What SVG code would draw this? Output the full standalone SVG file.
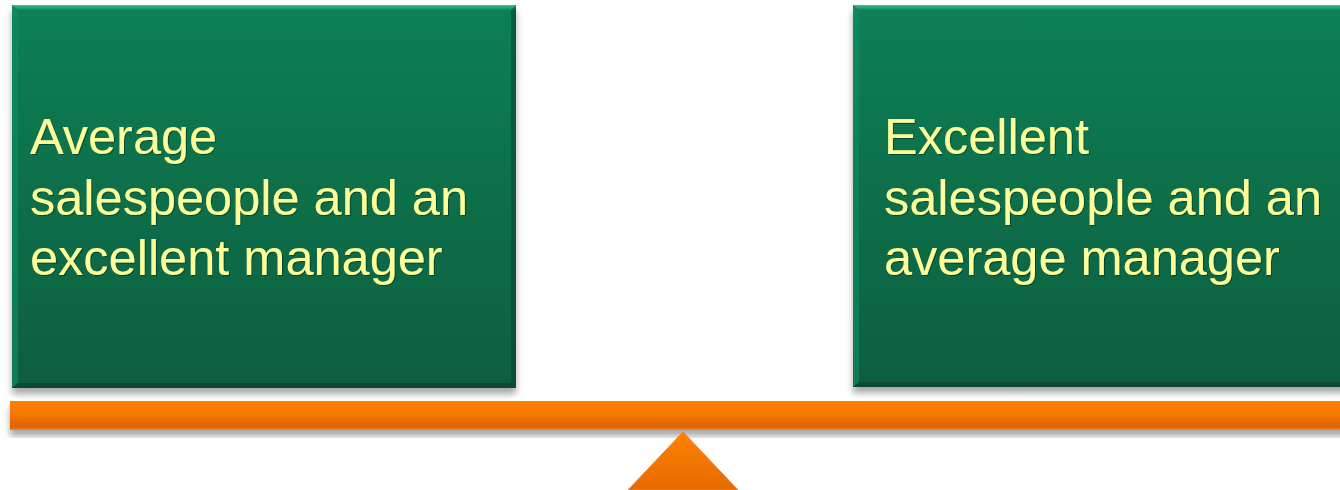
<svg xmlns="http://www.w3.org/2000/svg" width="1340" height="490" viewBox="0 0 1340 490">
  <style>
    .label { font-family: "Liberation Sans", Arial, sans-serif; font-size: 50.5px; fill: #FFFF99; }
  </style>
  <defs>
    <linearGradient id="boxFill" x1="0" y1="0" x2="0" y2="1">
      <stop offset="0" stop-color="#078056"/>
      <stop offset="1" stop-color="#095E3F"/>
    </linearGradient>
    <linearGradient id="bevelTop" x1="0" y1="0" x2="0" y2="1">
      <stop offset="0" stop-color="#3FBF8C"/>
      <stop offset="1" stop-color="#0A8A5C"/>
    </linearGradient>
    <linearGradient id="beamFill" x1="0" y1="0" x2="0" y2="1">
      <stop offset="0" stop-color="#FF8000"/>
      <stop offset="0.45" stop-color="#F57800"/>
      <stop offset="0.9" stop-color="#DD6200"/>
      <stop offset="1" stop-color="#F28A2A"/>
    </linearGradient>
    <linearGradient id="pivotFill" x1="0" y1="0" x2="0" y2="1">
      <stop offset="0" stop-color="#FF8200"/>
      <stop offset="1" stop-color="#E56A00"/>
    </linearGradient>
    <filter id="shadow" x="-5%" y="-5%" width="110%" height="130%">
      <feGaussianBlur in="SourceAlpha" stdDeviation="3.5"/>
      <feOffset dx="0" dy="6" result="b"/>
      <feComponentTransfer><feFuncA type="linear" slope="0.35"/></feComponentTransfer>
      <feMerge><feMergeNode/><feMergeNode in="SourceGraphic"/></feMerge>
    </filter>
    <filter id="textShadow" x="-5%" y="-20%" width="110%" height="140%">
      <feGaussianBlur in="SourceAlpha" stdDeviation="0.7"/>
      <feOffset dx="0.8" dy="0.8"/>
      <feComponentTransfer><feFuncA type="linear" slope="0.35"/></feComponentTransfer>
      <feMerge><feMergeNode/><feMergeNode in="SourceGraphic"/></feMerge>
    </filter>
  </defs>

  <!-- left pan -->
  <g id="box-left" filter="url(#shadow)">
    <rect x="12" y="5" width="504" height="383" fill="url(#boxFill)"/>
    <polygon points="12,5 516,5 516,10 18,10" fill="url(#bevelTop)"/>
    <polygon points="12,5 18,10 18,383 12,388" fill="#0A8F60" opacity="0.6"/>
    <polygon points="516,5 516,388 511,383 511,10" fill="#063F2A" opacity="0.5"/>
    <polygon points="12,388 516,388 511,383 18,383" fill="#053B27" opacity="0.55"/>
    <text class="label" filter="url(#textShadow)">
      <tspan x="30" y="154">Average</tspan>
      <tspan x="30" y="215">salespeople and an</tspan>
      <tspan x="30" y="275">excellent manager</tspan>
    </text>
  </g>

  <!-- right pan -->
  <g id="box-right" filter="url(#shadow)">
    <rect x="853" y="5" width="500" height="382" fill="url(#boxFill)"/>
    <polygon points="853,5 1353,5 1353,10 859,10" fill="url(#bevelTop)"/>
    <polygon points="853,5 859,10 859,382 853,387" fill="#0A8F60" opacity="0.6"/>
    <polygon points="853,387 1353,387 1348,382 859,382" fill="#053B27" opacity="0.55"/>
    <text class="label" filter="url(#textShadow)">
      <tspan x="884" y="154">Excellent</tspan>
      <tspan x="884" y="215">salespeople and an</tspan>
      <tspan x="884" y="275">average manager</tspan>
    </text>
  </g>

  <!-- balance beam -->
  <g id="beam" filter="url(#shadow)">
    <rect x="10" y="401" width="1340" height="29" fill="url(#beamFill)"/>
  </g>

  <!-- pivot -->
  <g id="pivot">
    <polygon points="683,432 738,490 628,490" fill="url(#pivotFill)" stroke="#F08020" stroke-width="1"/>
  </g>
</svg>
